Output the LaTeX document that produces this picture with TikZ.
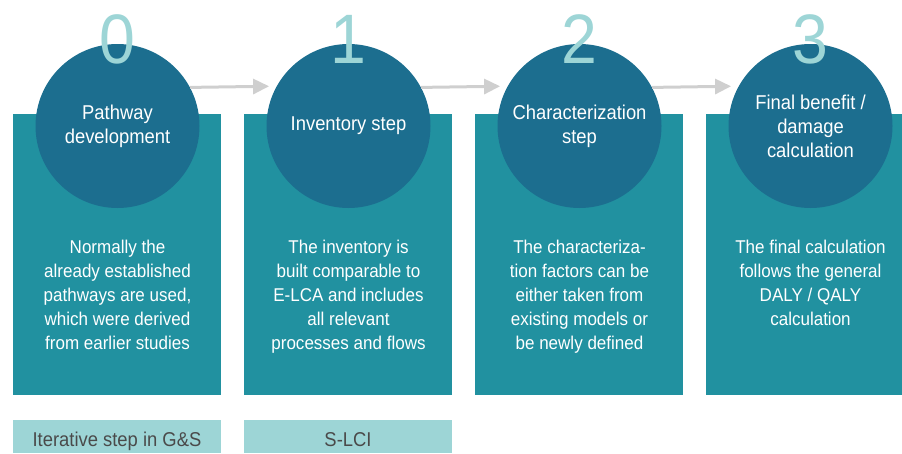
\documentclass[tikz,border=0pt]{standalone}
\usepackage{fontspec}
\setmainfont{Liberation Sans}[FakeStretch=0.92]
\usetikzlibrary{arrows.meta}

\definecolor{stepblue}{HTML}{1C6E8F}
\definecolor{boxteal}{HTML}{2191A0}
\definecolor{lightteal}{HTML}{9DD5D6}
\definecolor{arrowgray}{HTML}{CFCFCF}
\definecolor{labelgray}{HTML}{4A4A4A}

\begin{document}
\begin{tikzpicture}[x=1pt, y=-1pt,
    main node/.style={circle, fill=stepblue, minimum size=164pt, inner sep=0pt, text=white, align=center, font=\fontsize{20}{24}\selectfont},
    box node/.style={rectangle, fill=boxteal, minimum width=208pt, minimum height=281pt, inner sep=0pt},
    label node/.style={rectangle, fill=lightteal, minimum width=208pt, minimum height=33pt, inner sep=0pt, text height=19pt, text depth=0pt, text=labelgray, font=\fontsize{20}{24}\selectfont},
    body text/.style={anchor=north, inner sep=0pt, text=white, align=center, font=\fontsize{18.5}{24}\selectfont},
    number/.style={anchor=base, inner sep=0pt, text=lightteal, font=\fontsize{70}{70}\selectfont},
    flow/.style={-{Triangle[length=16pt, width=15pt]}, line width=3pt, arrowgray, shorten >=7.5pt}]

    \useasboundingbox (0,0) rectangle (902,453);

    % Boxes
    \node[box node] (B0) at (117,254.5) {};
    \node[box node] (B1) at (348,254.5) {};
    \node[box node] (B2) at (579,254.5) {};
    \node[box node, minimum width=196pt] (B3) at (804,254.5) {};

    % Steps
    \node[main node] (S0) at (117.5,126) {Pathway\\development};
    \node[main node] (S1) at (348.5,126) {Inventory step};
    \node[main node] (S2) at (579.5,126) {Characterization\\step};
    \node[main node] (S3) at (810.5,126) {Final benefit /\\damage\\calculation};

    \node[number] (N0) at (S0.center |- 0,63) {0};
    \node[number] (N1) at (S1.center |- 0,63) {1};
    \node[number] (N2) at (S2.center |- 0,63) {2};
    \node[number] (N3) at (S3.center |- 0,63) {3};

    \draw[flow] (S0.28.4) -- (S1.151.6);
    \draw[flow] (S1.28.4) -- (S2.151.6);
    \draw[flow] (S2.28.4) -- (S3.151.6);

    % Texts in the boxes
    \node[body text] (T0) at (117.5,239.7) {Normally the\\already established\\pathways are used,\\which were derived\\from earlier studies};
    \node[body text] (T1) at (348.5,239.7) {The inventory is\\built comparable to\\E-LCA and includes\\all relevant\\processes and flows};
    \node[body text] (T2) at (579.5,239.7) {The characteriza-\\tion factors can be\\either taken from\\existing models or\\be newly defined};
    \node[body text] (T3) at (810.5,239.7) {The final calculation\\follows the general\\DALY / QALY\\calculation};

    % Labels below
    \node[label node] (L0) at (117,436.5) {Iterative step in G\&S};
    \node[label node] (L1) at (348,436.5) {S-LCI};

\end{tikzpicture}
\end{document}
